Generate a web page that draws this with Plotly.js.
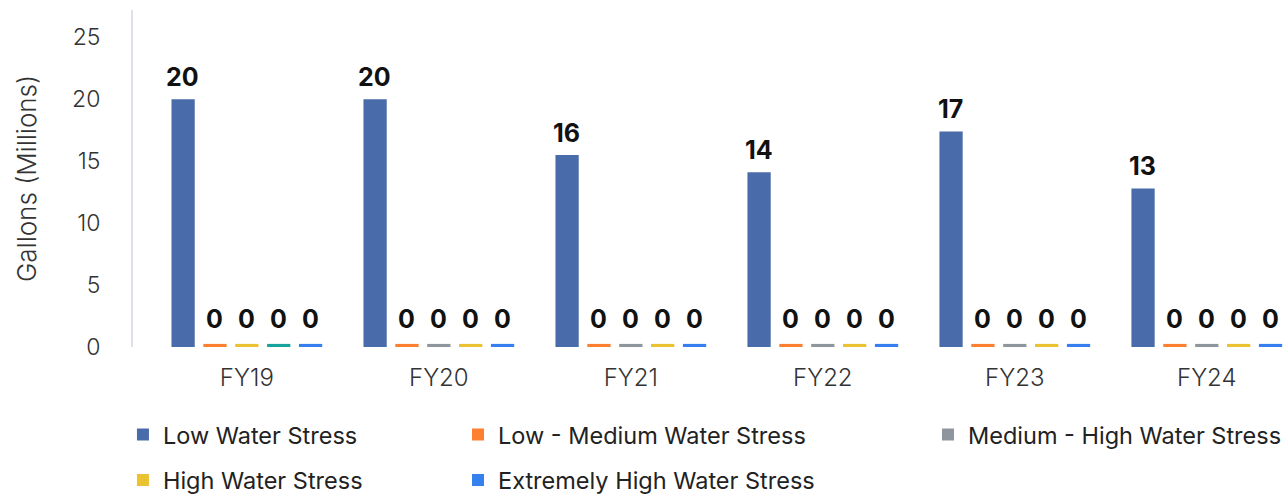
<!DOCTYPE html>
<html>
<head>
<meta charset="utf-8">
<script src="https://cdn.plot.ly/plotly-3.0.1.min.js"></script>
<style>html,body{margin:0;padding:0;background:#fff;}#chart{width:1288px;height:497px;}</style>
</head>
<body>
<div id="chart"></div>
<script>
// ---- data ----
var categories = ['FY19', 'FY20', 'FY21', 'FY22', 'FY23', 'FY24'];
var seriesNames = ['Low Water Stress', 'Low - Medium Water Stress', 'Medium - High Water Stress', 'High Water Stress', 'Extremely High Water Stress'];
var lowWaterStress = [20.0, 20.0, 15.5, 14.1, 17.4, 12.8];
var lowMediumWaterStress = [0.25, 0.25, 0.25, 0.25, 0.25, 0.25];
var mediumHighWaterStress = [0.25, 0.25, 0.25, 0.25, 0.25, 0.25];
var highWaterStress = [0.25, 0.25, 0.25, 0.25, 0.25, 0.25];
var extremelyHighWaterStress = [0.25, 0.25, 0.25, 0.25, 0.25, 0.25];
var yTickValues = [0, 5, 10, 15, 20, 25];

// ---- styles ----
var seriesValues = [lowWaterStress, lowMediumWaterStress, mediumHighWaterStress, highWaterStress, extremelyHighWaterStress];
var seriesColors = ['#4a6ba9', '#fd7f30', '#8f959d', '#ebc230', '#3580ef'];
// in FY19 the reference shows the 3rd bar yellow and the 4th bar teal
var pointColors = [
  seriesColors[0],
  seriesColors[1],
  categories.map(function (c, j) { return j === 0 ? '#ebc230' : '#8f959d'; }),
  categories.map(function (c, j) { return j === 0 ? '#17a39b' : '#ebc230'; }),
  seriesColors[4]
];
var legendIds = ['legend', 'legend2', 'legend3', 'legend', 'legend2'];
var FONT = 'Inter, "Noto Sans", sans-serif';

var traces = seriesNames.map(function (name, i) {
  return {
    type: 'bar',
    name: name,
    x: categories,
    y: seriesValues[i],
    marker: {color: pointColors[i]},
    showlegend: false,
    hoverinfo: 'x+y+name'
  };
});
// legend entries (series colours) drawn from a hidden overlay axis so the grouping is untouched
seriesNames.forEach(function (name, i) {
  traces.push({
    type: 'bar', name: name, x: [categories[0]], y: [null],
    xaxis: 'x2', yaxis: 'y2',
    marker: {color: seriesColors[i]},
    legend: legendIds[i], legendgroup: 'g' + i, showlegend: true, hoverinfo: 'skip'
  });
});

var annotations = [];
seriesValues.forEach(function (vals, i) {
  vals.forEach(function (v, j) {
    annotations.push({
      x: categories[j], y: v, xref: 'x', yref: 'y',
      text: String(Math.round(v)),
      showarrow: false, yanchor: 'bottom', xanchor: 'center',
      xshift: (i - 2) * 32, yshift: i === 0 ? 5 : 8,
      font: {family: FONT, size: 25, color: '#111111', weight: 700}
    });
  });
});

var legendBase = {
  orientation: 'v', yanchor: 'top', xanchor: 'left',
  font: {family: FONT, size: 23.5, color: '#222222'},
  bgcolor: 'rgba(0,0,0,0)', tracegroupgap: 12, itemclick: false
};
function mkLegend(x) { var o = Object.assign({}, legendBase); o.x = x; o.y = -0.195; return o; }

var layout = {
  width: 1288, height: 497,
  margin: {l: 133, r: 0, t: 10, b: 150, autoexpand: false},
  paper_bgcolor: '#ffffff', plot_bgcolor: '#ffffff',
  barmode: 'group', bargap: 0.17, bargroupgap: 0.27,
  showlegend: true,
  legend: mkLegend(-0.0087),
  legend2: mkLegend(0.2814),
  legend3: mkLegend(0.6883),
  xaxis: {
    type: 'category', range: [-0.593, 5.423],
    showline: false, showgrid: false, zeroline: false, ticks: '',
    tickfont: {family: FONT, size: 24, color: '#333333', weight: 300},
    ticklabelstandoff: 14
  },
  yaxis: {
    range: [0, 27.2], tickvals: yTickValues,
    showline: true, linecolor: '#dde2ea', linewidth: 2,
    showgrid: false, zeroline: false, ticks: '',
    tickfont: {family: FONT, size: 23, color: '#333333', weight: 300},
    ticklabelstandoff: 26,
    title: {text: 'Gallons (Millions)', font: {family: FONT, size: 26, color: '#333333', weight: 300}, standoff: 28}
  },
  xaxis2: {overlaying: 'x', visible: false, type: 'category', range: [-0.593, 5.423]},
  yaxis2: {overlaying: 'y', visible: false, range: [0, 27.2]},
  annotations: annotations
};

Plotly.newPlot('chart', traces, layout, {displayModeBar: false, staticPlot: true});
</script>
</body>
</html>
